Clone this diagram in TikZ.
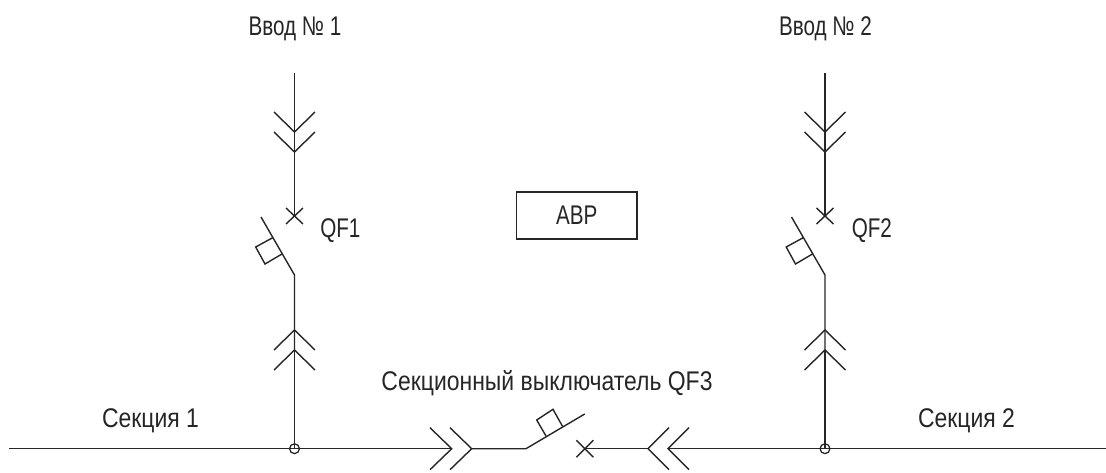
\documentclass[tikz,border=0pt]{standalone}
\usepackage{fontspec}
\setmainfont[FakeStretch=0.85]{Liberation Sans}
\newfontfamily\narrowfont[FakeStretch=0.765]{Liberation Sans}
\tikzset{
	wire/.style={line width=1pt, black!85},
	junction/.style={circle, draw, line width=0.9pt, black!85, minimum size=7pt, inner sep=0pt},
	label/.style={inner sep=0pt, text=black!85, font=\fontsize{19.2}{22}\selectfont},
	shortlabel/.style={label, font=\fontsize{19.2}{22}\selectfont\narrowfont},
}
\begin{document}
\begin{tikzpicture}[x=0.025cm, y=-0.025cm]
	\useasboundingbox (0,0) rectangle (1106,473);
	% labels
	\node[shortlabel] (in1) at (295,28.5) {Ввод № 1};
	\node[shortlabel] (in2) at (825.5,28.5) {Ввод № 2};
	\node[shortlabel] (qf1) at (320,231) [anchor=west] {QF1};
	\node[shortlabel] (qf2) at (851.5,231) [anchor=west] {QF2};
	\node[label] (sec1) at (150.5,421) {Секция 1};
	\node[label] (sec2) at (966.5,421) {Секция 2};
	\node[label] (qf3) at (547,383) {Секционный выключатель QF3};
	\node[draw, wire, shortlabel, minimum width=85.5pt, minimum height=33.5pt] (avr) at (576.8,215.5) {АВР};
	\node[junction] (j1) at (294.5,448.7) {};
	\node[junction] (j2) at (825,448.7) {};
	% feeder 1
	\draw[wire] (294.5,73) -- (294.5,216);
	\draw[wire] (274,112) -- (294.5,132) -- (315,112);
	\draw[wire] (274,132) -- (294.5,152) -- (315,132);
	\draw[wire] (286,208) -- (303,224);
	\draw[wire] (286,224) -- (303,208);
	\draw[wire] (261,217) -- (294.5,275) -- (294.5,350);
	\draw[wire] (272.7,237.7) -- (255.7,247) -- (265,264) -- (282,254);
	\draw[wire] (274,350) -- (294.5,330) -- (315,350);
	\draw[wire] (274,370) -- (294.5,350) -- (315,370);
	\draw[wire] (294.5,350) -- (j1.center);
	% feeder 2
	\draw[wire] (825,73) -- (825,216);
	\draw[wire] (804.5,112) -- (825,132) -- (845.5,112);
	\draw[wire] (804.5,132) -- (825,152) -- (845.5,132);
	\draw[wire] (816.5,208) -- (833.5,224);
	\draw[wire] (816.5,224) -- (833.5,208);
	\draw[wire] (791.5,217) -- (825,275) -- (825,350);
	\draw[wire] (803.2,237.7) -- (786.2,247) -- (795.5,264) -- (812.5,254);
	\draw[wire] (804.5,350) -- (825,330) -- (845.5,350);
	\draw[wire] (804.5,370) -- (825,350) -- (845.5,370);
	\draw[wire] (825,350) -- (j2.center);
	% bus and section switch
	\draw[wire] (9,448.7) -- (j1.center) -- (451.7,448.7);
	\draw[wire] (430,427.7) -- (451.7,448.7) -- (430,469.7);
	\draw[wire] (450,427.7) -- (471.7,448.7) -- (450,469.7);
	\draw[wire] (471.7,448.7) -- (526,448.7) -- (584.7,414);
	\draw[wire] (546,436) -- (536.7,420) -- (553,409.3) -- (562.7,426.7);
	\draw[wire] (576.3,440.2) -- (593.3,457.2);
	\draw[wire] (576.3,457.2) -- (593.3,440.2);
	\draw[wire] (584.7,448.7) -- (648,448.7);
	\draw[wire] (669,427.7) -- (648,448.7) -- (669,469.7);
	\draw[wire] (689,427.7) -- (668,448.7) -- (689,469.7);
	\draw[wire] (668,448.7) -- (j2.center) -- (1106,448.7);
\end{tikzpicture}
\end{document}
